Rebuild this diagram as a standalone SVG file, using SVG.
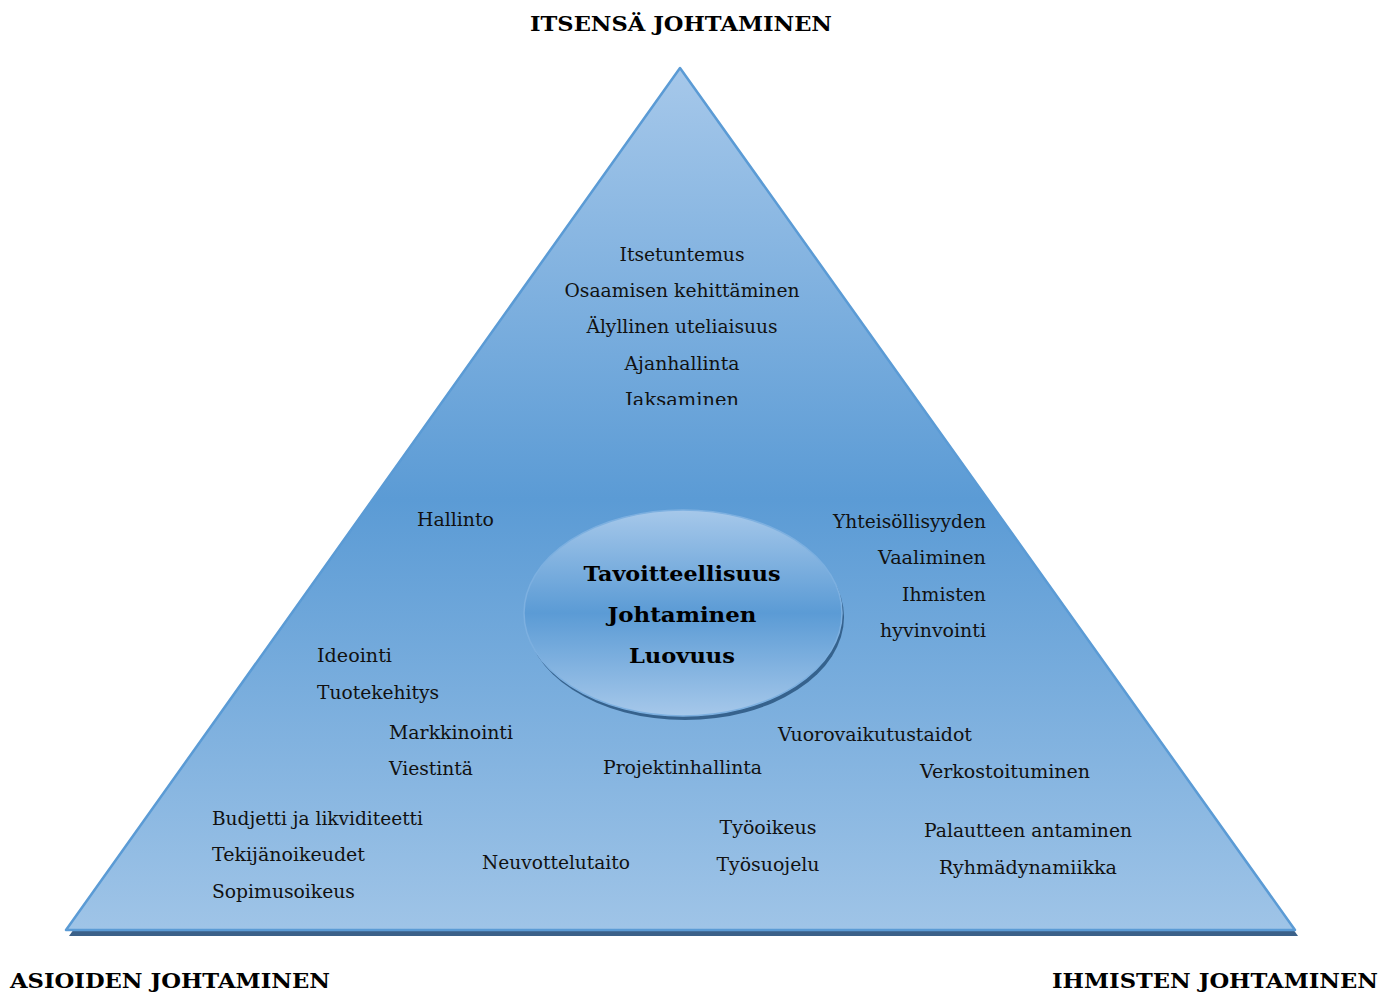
<svg xmlns="http://www.w3.org/2000/svg" width="1396" height="992" viewBox="0 0 1396 992">
<style>
.t{font-family:"DejaVu Serif","Liberation Serif",serif;font-size:19px;fill:#111}
.b{font-family:"DejaVu Serif","Liberation Serif",serif;font-size:21px;font-weight:bold;fill:#000}
.h{font-family:"DejaVu Serif","Liberation Serif",serif;font-size:20px;font-weight:bold;fill:#000}
.c{text-anchor:middle}
.e{text-anchor:end}
</style>
<defs>
<linearGradient id="tri" x1="0" y1="68" x2="0" y2="930" gradientUnits="userSpaceOnUse">
<stop offset="0" stop-color="#a6c8ea"/>
<stop offset="0.5" stop-color="#5b9bd5"/>
<stop offset="1" stop-color="#9fc4e7"/>
</linearGradient>
<linearGradient id="ell" x1="0" y1="0" x2="0" y2="1">
<stop offset="0" stop-color="#a6c8ea"/>
<stop offset="0.5" stop-color="#5b9bd5"/>
<stop offset="1" stop-color="#a6c8ea"/>
</linearGradient>
<clipPath id="topclip"><rect x="540" y="230" width="300" height="175"/></clipPath>
</defs>
<rect width="1396" height="992" fill="#fff"/>
<g id="pyramid">
<polygon points="683,74 69,936 1298,936" fill="#3b6189"/>
<polygon points="680,68 66,930 1295,930" fill="url(#tri)" stroke="#5b9bd5" stroke-width="2.5" stroke-linejoin="round"/>
</g>
<g id="core">
<ellipse cx="685" cy="617" rx="159" ry="103" fill="#2f5a84" opacity="0.9"/>
<ellipse cx="683" cy="613" rx="159" ry="103" fill="url(#ell)" stroke="#7db0e0" stroke-width="1.5"/>
<text class="b c" x="682" y="581" textLength="197" lengthAdjust="spacingAndGlyphs">Tavoitteellisuus</text>
<text class="b c" x="682" y="622" textLength="149" lengthAdjust="spacingAndGlyphs">Johtaminen</text>
<text class="b c" x="682" y="663" textLength="106" lengthAdjust="spacingAndGlyphs">Luovuus</text>
</g>
<g id="titles">
<text class="h c" x="681" y="31" textLength="302" lengthAdjust="spacingAndGlyphs">ITSENSÄ JOHTAMINEN</text>
<text class="h" x="10" y="988" textLength="320" lengthAdjust="spacingAndGlyphs">ASIOIDEN JOHTAMINEN</text>
<text class="h" x="1052" y="988" textLength="326" lengthAdjust="spacingAndGlyphs">IHMISTEN JOHTAMINEN</text>
</g>
<g id="self" clip-path="url(#topclip)">
<text class="t c" x="682" y="261" textLength="125" lengthAdjust="spacingAndGlyphs">Itsetuntemus</text>
<text class="t c" x="682" y="297" textLength="235" lengthAdjust="spacingAndGlyphs">Osaamisen kehittäminen</text>
<text class="t c" x="682" y="333" textLength="191" lengthAdjust="spacingAndGlyphs">Älyllinen uteliaisuus</text>
<text class="t c" x="682" y="370" textLength="115" lengthAdjust="spacingAndGlyphs">Ajanhallinta</text>
<text class="t c" x="682" y="406" textLength="114" lengthAdjust="spacingAndGlyphs">Jaksaminen</text>
</g>
<g id="hallinto"><text class="t" x="417" y="526" textLength="77" lengthAdjust="spacingAndGlyphs">Hallinto</text></g>
<g id="yhteiso">
<text class="t e" x="986" y="528" textLength="153" lengthAdjust="spacingAndGlyphs">Yhteisöllisyyden</text>
<text class="t e" x="986" y="564" textLength="108" lengthAdjust="spacingAndGlyphs">Vaaliminen</text>
<text class="t e" x="986" y="601" textLength="84" lengthAdjust="spacingAndGlyphs">Ihmisten</text>
<text class="t e" x="986" y="637" textLength="106" lengthAdjust="spacingAndGlyphs">hyvinvointi</text>
</g>
<g id="ideointi">
<text class="t" x="317" y="662" textLength="75" lengthAdjust="spacingAndGlyphs">Ideointi</text>
<text class="t" x="317" y="699" textLength="122" lengthAdjust="spacingAndGlyphs">Tuotekehitys</text>
</g>
<g id="markkinointi">
<text class="t" x="389" y="739" textLength="124" lengthAdjust="spacingAndGlyphs">Markkinointi</text>
<text class="t" x="389" y="775" textLength="84" lengthAdjust="spacingAndGlyphs">Viestintä</text>
</g>
<g id="vuoro"><text class="t" x="778" y="741" textLength="194" lengthAdjust="spacingAndGlyphs">Vuorovaikutustaidot</text></g>
<g id="projekti"><text class="t" x="603" y="774" textLength="159" lengthAdjust="spacingAndGlyphs">Projektinhallinta</text></g>
<g id="verkosto"><text class="t" x="920" y="778" textLength="170" lengthAdjust="spacingAndGlyphs">Verkostoituminen</text></g>
<g id="talous">
<text class="t" x="212" y="825" textLength="211" lengthAdjust="spacingAndGlyphs">Budjetti ja likviditeetti</text>
<text class="t" x="212" y="861" textLength="153" lengthAdjust="spacingAndGlyphs">Tekijänoikeudet</text>
<text class="t" x="212" y="898" textLength="143" lengthAdjust="spacingAndGlyphs">Sopimusoikeus</text>
</g>
<g id="neuvottelu"><text class="t" x="482" y="869" textLength="148" lengthAdjust="spacingAndGlyphs">Neuvottelutaito</text></g>
<g id="tyo">
<text class="t c" x="768" y="834" textLength="97" lengthAdjust="spacingAndGlyphs">Työoikeus</text>
<text class="t c" x="768" y="871" textLength="103" lengthAdjust="spacingAndGlyphs">Työsuojelu</text>
</g>
<g id="palaute">
<text class="t c" x="1028" y="837" textLength="208" lengthAdjust="spacingAndGlyphs">Palautteen antaminen</text>
<text class="t c" x="1028" y="874" textLength="178" lengthAdjust="spacingAndGlyphs">Ryhmädynamiikka</text>
</g>
<g id="connectors"/>
</svg>
